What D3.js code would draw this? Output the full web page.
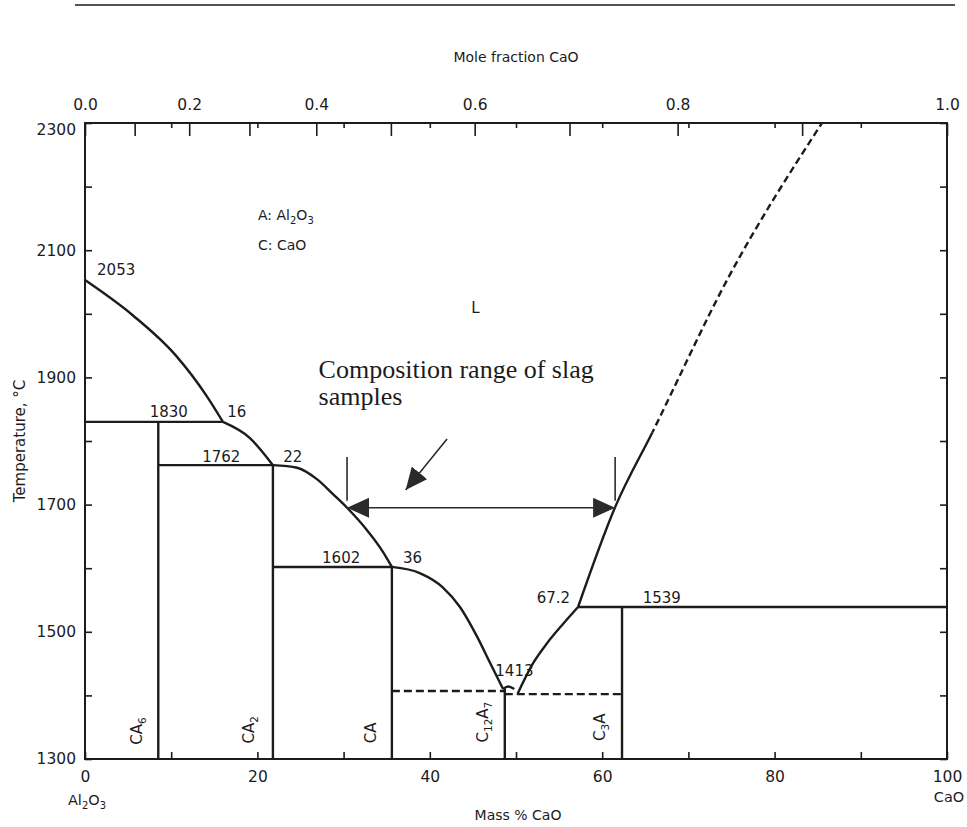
<!DOCTYPE html>
<html>
<head>
<meta charset="utf-8">
<script src="https://cdn.jsdelivr.net/npm/d3@7"></script>
<style>
  body { margin: 0; background: #fff; }
  text { font-family: "DejaVu Sans", "Open Sans", sans-serif; fill: #1c1c1c; }
</style>
</head>
<body>
<div id="chart"></div>
<script>
/* ---- data (mass % CaO, temperature in C) ---- */
var massTicks = d3.range(0, 101, 10);
var massLabels = [0, 20, 40, 60, 80, 100];
var tempTicks = d3.range(1300, 2301, 100);
var tempLabels = [1300, 1500, 1700, 1900, 2100, 2300];
var moleTicks = [0, 0.1, 0.2, 0.3, 0.4, 0.5, 0.6, 0.7, 0.8, 0.9, 1.0];
var moleLabels = [0, 0.2, 0.4, 0.6, 0.8, 1.0];

var liqAl2O3 = [[0, 2053], [5.6, 1997], [10.5, 1935], [14.2, 1869], [16, 1830]];
var liqCA6 = [[16, 1830], [19.1, 1805], [21.8, 1762]];
var liqCA2 = [[21.8, 1762], [24.6, 1758], [26.9, 1740], [28.8, 1716], [30.4, 1695], [32.7, 1660], [34.6, 1625], [35.6, 1602]];
var liqCA = [[35.6, 1602], [38.9, 1592], [41.5, 1570], [43.5, 1539], [45.5, 1492], [47, 1451], [48.5, 1410]];
var liqC12A7 = [[48.5, 1410], [49.1, 1414], [49.8, 1410]];
var liqC3A = [[50.2, 1403], [52, 1451], [53.6, 1482], [55.5, 1513], [57.2, 1539]];
var liqCaO = [[57.2, 1539], [61.5, 1696], [65.8, 1813], [74.6, 2056], [85.5, 2300]];
var liqCaOSolidTop = 1813;   /* above this the CaO liquidus is dashed */

/* invariant lines: [x0, x1, T] */
var isotherms = [[0, 16, 1830], [8.5, 21.8, 1762], [21.8, 35.6, 1602], [57.2, 100, 1539]];
var eutectics = [[35.6, 48.7, 1407], [48.7, 62.3, 1402]];
/* compounds */
var compounds = [
  {parts: [["CA", ""], ["6", "sub"]], x: 8.5, top: 1830, lx: 6.0, lt: 1344},
  {parts: [["CA", ""], ["2", "sub"]], x: 21.8, top: 1762, lx: 19.0, lt: 1346},
  {parts: [["CA", ""]], x: 35.6, top: 1602, lx: 33.2, lt: 1341},
  {parts: [["C", ""], ["12", "sub"], ["A", ""], ["7", "sub"]], x: 48.7, top: 1410, lx: 46.2, lt: 1358},
  {parts: [["C", ""], ["3", "sub"], ["A", ""]], x: 62.3, top: 1539, lx: 59.7, lt: 1350}
];
var pointLabels = [
  ["2053", 1.4, 2061], ["1830", 7.5, 1837], ["16", 16.5, 1837],
  ["1762", 13.6, 1767], ["22", 23.0, 1767], ["1602", 27.5, 1608],
  ["36", 36.9, 1608], ["1413", 47.6, 1431], ["67.2", 52.4, 1545],
  ["1539", 64.7, 1546], ["L", 44.8, 2001]
];
var slagRange = [30.4, 61.5, 1695];
var slagTicks = [1775, 1706];
var slagPointer = [[42.0, 1803], [37.2, 1723]];

var M_CAO = 56.08, M_AL2O3 = 101.96;
function moleToMass(m) { return 100 * m * M_CAO / (m * M_CAO + (1 - m) * M_AL2O3); }

/* ---- setup ---- */
var W = 967, H = 827;
var svg = d3.select("#chart").append("svg")
  .attr("width", W).attr("height", H);

var x = d3.scaleLinear().domain([0, 100]).range([85, 947]);
var y = d3.scaleLinear().domain([1300, 2300]).range([759, 123]);

var ink = "#1c1c1c";

/*page rule*/
svg.append("line")
  .attr("x1", 75).attr("x2", 955).attr("y1", 5).attr("y2", 5)
  .attr("stroke", ink).attr("stroke-width", 1.5);

/* ---- axes ---- */
function styleAxis(g) {
  g.select(".domain").remove();
  g.selectAll(".tick line").attr("stroke", ink).attr("stroke-width", 1.6);
  g.selectAll(".tick text").style("font-size", "15.5px").style("font-family", "'DejaVu Sans', sans-serif").attr("fill", ink);
}

svg.append("g").attr("transform", "translate(0," + y(1300) + ")")
  .call(d3.axisBottom(x).tickValues(massTicks).tickSizeInner(-7).tickSizeOuter(0).tickPadding(12)
    .tickFormat(function(d) { return massLabels.indexOf(d) >= 0 ? d : ""; }))
  .call(styleAxis);

svg.append("g").attr("transform", "translate(0," + y(2300) + ")")
  .call(d3.axisTop(x).tickValues(d3.range(10, 91, 10)).tickSizeInner(-5).tickSizeOuter(0).tickFormat(""))
  .call(styleAxis);

svg.append("g").attr("transform", "translate(0," + y(2300) + ")")
  .call(d3.axisTop(x).tickValues(moleTicks.map(moleToMass)).tickSizeInner(-13).tickSizeOuter(0).tickPadding(13)
    .tickFormat(function(d, i) {
      var m = moleTicks[i];
      return moleLabels.some(function(v) { return Math.abs(v - m) < 1e-9; }) ? d3.format(".1f")(m) : "";
    }))
  .call(styleAxis);

svg.append("g").attr("transform", "translate(" + x(0) + ",0)")
  .call(d3.axisLeft(y).tickValues(tempTicks).tickSizeInner(-7).tickSizeOuter(0).tickPadding(9)
    .tickFormat(function(d) { return tempLabels.indexOf(d) >= 0 ? d : ""; }))
  .call(styleAxis)
  .selectAll(".tick text").filter(function(d) { return d === 2300; }).attr("dy", "0.75em");

svg.append("g").attr("transform", "translate(" + x(100) + ",0)")
  .call(d3.axisRight(y).tickValues(tempTicks).tickSizeInner(-7).tickSizeOuter(0).tickFormat(""))
  .call(styleAxis);

/*frame*/
svg.append("rect")
  .attr("x", x(0)).attr("y", y(2300))
  .attr("width", x(100) - x(0)).attr("height", y(1300) - y(2300))
  .attr("fill", "none").attr("stroke", ink).attr("stroke-width", 2);

/*axis titles*/
svg.append("text").attr("x", (x(0) + x(100)) / 2).attr("y", 62)
  .attr("text-anchor", "middle").style("font-size", "14px").text("Mole fraction CaO");
svg.append("text").attr("x", (x(0) + x(100)) / 2 + 2).attr("y", 820)
  .attr("text-anchor", "middle").style("font-size", "14px").text("Mass % CaO");
svg.append("text")
  .attr("transform", "translate(20," + (y(1300) + y(2300)) / 2 + ") rotate(-90)")
  .attr("text-anchor", "middle").attr("dy", "0.35em")
  .style("font-size", "15px").text("Temperature, \u00b0C");

var endA = svg.append("text").attr("x", x(0) + 2).attr("y", 805)
  .attr("text-anchor", "middle").style("font-size", "14.5px");
endA.append("tspan").text("Al");
endA.append("tspan").attr("dy", 4).style("font-size", "10px").text("2");
endA.append("tspan").attr("dy", -4).text("O");
endA.append("tspan").attr("dy", 4).style("font-size", "10px").text("3");
svg.append("text").attr("x", x(100) + 2).attr("y", 802)
  .attr("text-anchor", "middle").style("font-size", "14.5px").text("CaO");

/* ---- phase lines ---- */
var line = d3.line()
  .x(function(d) { return x(d[0]); })
  .y(function(d) { return y(d[1]); });
var smooth = d3.line()
  .x(function(d) { return x(d[0]); })
  .y(function(d) { return y(d[1]); })
  .curve(d3.curveMonotoneX);

var defs = svg.append("defs");
defs.append("clipPath").attr("id", "below")
  .append("rect").attr("x", x(0)).attr("y", y(liqCaOSolidTop))
  .attr("width", x(100) - x(0)).attr("height", y(1300) - y(liqCaOSolidTop));
defs.append("clipPath").attr("id", "above")
  .append("rect").attr("x", x(0)).attr("y", y(2300))
  .attr("width", x(100) - x(0)).attr("height", y(liqCaOSolidTop) - y(2300));

var phase = svg.append("g")
  .attr("fill", "none").attr("stroke", ink).attr("stroke-width", 2.4)
  .attr("stroke-linejoin", "round");

[liqAl2O3, liqCA6, liqCA2, liqCA, liqC12A7, liqC3A].forEach(function(pts) {
  phase.append("path").attr("d", smooth(pts));
});
phase.append("path").attr("d", smooth(liqCaO)).attr("clip-path", "url(#below)");
phase.append("path").attr("d", smooth(liqCaO)).attr("clip-path", "url(#above)")
  .attr("stroke-dasharray", "7,4");

phase.selectAll(".iso").data(isotherms).enter().append("path")
  .attr("d", function(d) { return line([[d[0], d[2]], [d[1], d[2]]]); });
phase.selectAll(".eut").data(eutectics).enter().append("path")
  .attr("stroke-dasharray", "8,4")
  .attr("d", function(d) { return line([[d[0], d[2]], [d[1], d[2]]]); });
phase.selectAll(".cmp").data(compounds).enter().append("path")
  .attr("d", function(d) { return line([[d.x, 1300], [d.x, d.top]]); });

/*compound labels*/
compounds.forEach(function(c) {
  var t = svg.append("text")
    .attr("transform", "translate(" + x(c.lx) + "," + y(c.lt) + ") rotate(-90)")
    .attr("text-anchor", "middle").attr("dy", "0.35em")
    .style("font-size", "15px");
  var shift = 0;
  c.parts.forEach(function(p) {
    var ts = t.append("tspan").text(p[0]);
    if (p[1] === "sub") { ts.attr("dy", 4 - shift).style("font-size", "10.5px"); shift = 4; }
    else if (shift) { ts.attr("dy", -shift); shift = 0; }
  });
});

/*point labels*/
svg.selectAll(".plab").data(pointLabels).enter().append("text")
  .attr("x", function(d) { return x(d[1]); })
  .attr("y", function(d) { return y(d[2]); })
  .style("font-size", "15px")
  .text(function(d) { return d[0]; });

/*legend A / C*/
var leg = svg.append("text").attr("x", 258).attr("y", 220).style("font-size", "14px");
leg.append("tspan").text("A: Al");
leg.append("tspan").attr("dy", 4).style("font-size", "10px").text("2");
leg.append("tspan").attr("dy", -4).text("O");
leg.append("tspan").attr("dy", 4).style("font-size", "10px").text("3");
svg.append("text").attr("x", 258).attr("y", 250).style("font-size", "14px").text("C: CaO");

/* ---- slag annotation ---- */
defs.append("marker").attr("id", "head")
  .attr("viewBox", "0 0 22 20").attr("refX", 22).attr("refY", 10)
  .attr("markerWidth", 22).attr("markerHeight", 20)
  .attr("markerUnits", "userSpaceOnUse").attr("orient", "auto-start-reverse")
  .append("path").attr("d", "M0,0 L22,10 L0,20 Z").attr("fill", "#2a2a2a");

var ann = svg.append("g").attr("stroke", "#2a2a2a").attr("stroke-width", 1.6).attr("fill", "none");
ann.append("path")
  .attr("d", line([[slagRange[0], slagRange[2]], [slagRange[1], slagRange[2]]]))
  .attr("marker-start", "url(#head)").attr("marker-end", "url(#head)");
[slagRange[0], slagRange[1]].forEach(function(v) {
  ann.append("path").attr("d", line([[v, slagTicks[0]], [v, slagTicks[1]]]));
});
ann.append("path").attr("d", line(slagPointer)).attr("marker-end", "url(#head)");

var note = svg.append("text")
  .attr("x", x(27.1)).attr("y", y(1899))
  .style("font-family", "'Liberation Serif', 'Times New Roman', serif")
  .style("font-size", "26px").attr("fill", "#2a2a2a");
note.append("tspan").text("Composition range of slag");
note.append("tspan").attr("x", x(27.1)).attr("dy", 27).text("samples");
</script>
</body>
</html>
